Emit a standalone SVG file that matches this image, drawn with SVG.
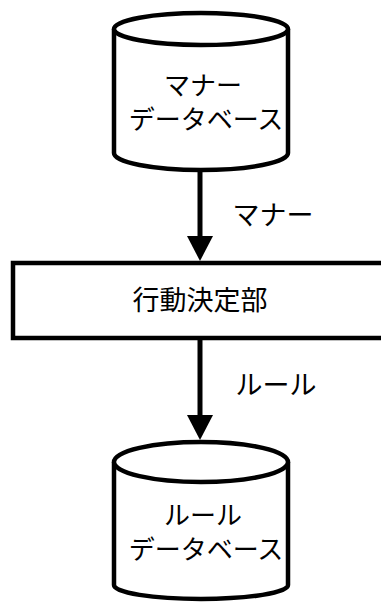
<svg xmlns="http://www.w3.org/2000/svg" width="381" height="602" viewBox="0 0 381 602">
<defs>
<style>
.s{fill:#fff;stroke:#000;stroke-width:4.5}
.t{font-family:"Noto Sans CJK JP","Noto Sans CJK SC",sans-serif;font-size:27px;fill:#000;text-anchor:middle}
.d{font-size:26px}
.c{stroke:#000;stroke-width:5;fill:none}
</style>
<marker id="ah" markerUnits="userSpaceOnUse" markerWidth="26" markerHeight="26" refX="0" refY="13" orient="auto">
<path d="M0,0 L25,13 L0,26 Z" fill="#000"/>
</marker>
</defs>
<rect width="381" height="602" fill="#fff"/>
<g id="connectors">
<line class="c" x1="200" y1="171" x2="200" y2="236" marker-end="url(#ah)"/>
<line class="c" x1="200" y1="340" x2="200" y2="415" marker-end="url(#ah)"/>
<text class="t" x="273" y="225">マナー</text>
<text class="t" x="276" y="395">ルール</text>
</g>
<g id="manner-db">
<path class="s" d="M114,29 L114,153 A87,17 0 0 0 288,153 L288,29"/>
<ellipse class="s" cx="201" cy="29" rx="87" ry="16"/>
<text class="t d" x="203" y="95">マナー</text>
<text class="t d" x="206" y="129">データベース</text>
</g>
<g id="action">
<rect class="s" x="13" y="263" width="380" height="75"/>
<text class="t" x="200" y="310">行動決定部</text>
</g>
<g id="rule-db">
<path class="s" d="M114,462 L114,585 A87,14 0 0 0 288,585 L288,462"/>
<ellipse class="s" cx="201" cy="462" rx="87" ry="20"/>
<text class="t d" x="203" y="525">ルール</text>
<text class="t d" x="206" y="559">データベース</text>
</g>
</svg>
